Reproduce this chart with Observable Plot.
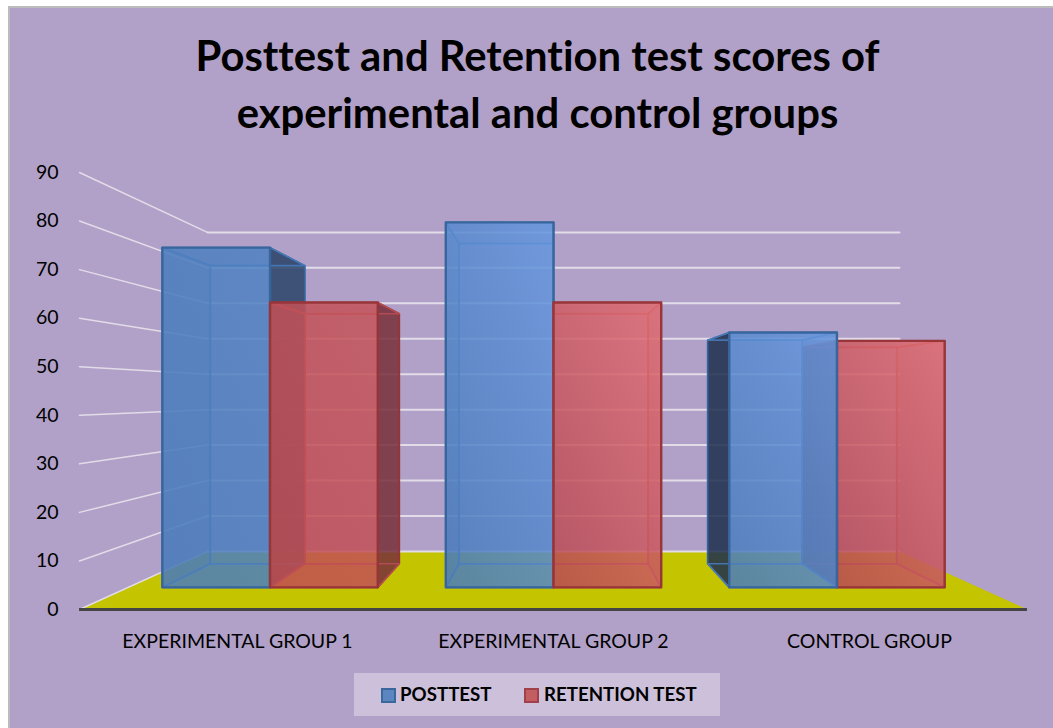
<!DOCTYPE html>
<html>
<head>
<meta charset="utf-8">
<script src="https://cdn.jsdelivr.net/npm/d3@7"></script>
<script src="https://cdn.jsdelivr.net/npm/@observablehq/plot@0.6"></script>
<style>
  html, body { margin: 0; padding: 0; width: 1053px; height: 728px; overflow: hidden; font-family: Lato, "Open Sans", sans-serif; color: #000; font-variant-ligatures: none; }
  html { background: #fff; }
  #frame { position: absolute; left: 8px; top: 6px; width: 1049px; height: 726px; background: #b1a0c7; border: 2px solid #bcbcbc; box-sizing: border-box; }
  #title { position: relative; height: 160px; box-sizing: border-box; padding: 27px 0 0 22px; text-align: center; font-weight: 700; font-size: 41.8px; line-height: 57px; }
  #chart { position: relative; }
  #chart svg { display: block; background: transparent !important; overflow: visible; font-variant-ligatures: none; }
  #legend { position: absolute; left: 354px; top: 673px; width: 366px; height: 43px; background: #ccc0da; font-weight: 700; font-size: 18.7px; }
  #legend span { position: absolute; top: 9px; line-height: 24px; white-space: nowrap; }
  #legend i { position: absolute; top: 15px; width: 11px; height: 11px; border: 2px solid; }
</style>
</head>
<body>
<div id="frame"></div>
<div id="title">Posttest and Retention test scores of<br>experimental and control groups</div>
<div id="chart"></div>
<div id="legend">
  <i style="left:27px;background:#5c86c0;border-color:#3a679c"></i><span style="left:46px">POSTTEST</span>
  <i style="left:170px;background:#c25e62;border-color:#a04048"></i><span style="left:190px">RETENTION TEST</span>
</div>
<script>
const groups = ["EXPERIMENTAL GROUP 1", "EXPERIMENTAL GROUP 2", "CONTROL GROUP"];
const posttest = [78, 83.8, 58.5];
const retention = [65.4, 65.4, 56.6];
const yTicks = [0, 10, 20, 30, 40, 50, 60, 70, 80, 90];

// simple perspective: s is the scale of a depth plane, relative to the front plane
const vanishU = 1.5, vanishV = 44.3;
const sFront = 1, sBarFront = 0.897, sBarBack = 0.787, sWall = 0.73;
const barW = 0.38;
const P = (u, v, s) => ({x: vanishU + (u - vanishU) * s, y: vanishV + (v - vanishV) * s});

const poly = (pts, o) => Plot.line([...pts, pts[0]], {x: "x", y: "y", ...o});

function bar(u0, u1, v, c, fillFront) {
  const F = s => [P(u0, 0, s), P(u1, 0, s), P(u1, v, s), P(u0, v, s)];
  const f = F(sBarFront), b = F(sBarBack);
  const edge = {stroke: c.inner, strokeWidth: 1.6, strokeOpacity: 0.9};
  const side = (i, j) => {
    const outside = (i === 0 && u0 > vanishU) || (i === 1 && u1 < vanishU);
    return poly([f[i], b[i], b[j], f[j]], outside
      ? {fill: c.dark, fillOpacity: 0.86, stroke: c.edge, strokeWidth: 1.6}
      : {fill: c.dark, fillOpacity: 0.16, ...edge});
  };
  return [
    poly(b, {fill: "none", ...edge}),
    side(0, 3),
    side(1, 2),
    poly([f[0], f[1], b[1], b[0]], {fill: "none", ...edge}),
    poly([f[3], f[2], b[2], b[3]], {fill: c.dark, fillOpacity: 0.05, ...edge}),
    poly(f, {fill: fillFront, fillOpacity: 0.85, stroke: c.edge, strokeWidth: 2.4})
  ];
}

const blue = {edge: "#37659c", inner: "#4a7ab8", dark: "#2b4369"};
const blueDeep = {edge: "#37659c", inner: "#4a7ab8", dark: "#1d2f4e"};
const red = {edge: "#973539", inner: "#b84f55", dark: "#78303a"};

const defs = () => {
  const d = d3.create("svg:defs");
  const grad = (id, a, b) => {
    const g = d.append("linearGradient").attr("id", id)
      .attr("x1", 0.9).attr("y1", 0).attr("x2", 0.1).attr("y2", 1);
    g.append("stop").attr("offset", 0).attr("stop-color", a);
    g.append("stop").attr("offset", 1).attr("stop-color", b);
  };
  grad("blue1", "#4f82c2", "#4a7cbc");
  grad("blue2", "#6496de", "#4a7cbc");
  grad("red1", "#c4545a", "#c04c52");
  grad("red2", "#e06c72", "#b84a54");
  return d.node();
};

const floor = [P(0, 0, sFront), P(3, 0, sFront), P(3, 0, sWall), P(0, 0, sWall)];

const marks = [
  defs,
  poly(floor, {fill: "#c4c400", stroke: "none"}),
  // back-wall gridlines
  ...yTicks.map(t => Plot.line([P(0, t, sWall), P(3, t, sWall)], {x: "x", y: "y", stroke: "#e2dce8", strokeWidth: 2})),
  // side-wall gridlines
  ...yTicks.map(t => Plot.line([P(0, t, sFront), P(0, t, sWall)], {x: "x", y: "y", stroke: "#e2dce8", strokeWidth: 1.5})),
  // bars: left and centre groups draw posttest first, the right group retention first
  ...bar(0.5 - barW, 0.5, posttest[0], blue, "url(#blue1)"),
  ...bar(0.5, 0.5 + barW, retention[0], red, "url(#red1)"),
  ...bar(1.5 - barW, 1.5, posttest[1], blue, "url(#blue2)"),
  ...bar(1.5, 1.5 + barW, retention[1], red, "url(#red2)"),
  ...bar(2.5, 2.5 + barW, retention[2], red, "url(#red2)"),
  ...bar(2.5 - barW, 2.5, posttest[2], blueDeep, "url(#blue2)"),
  // front edge of the floor
  Plot.ruleY([0], {x1: 0, x2: 3, stroke: "#444", strokeWidth: 3}),
  Plot.axisY({ticks: yTicks, tickSize: 0, tickPadding: 21, label: null, fontSize: 19.5, tickFormat: d => String(d)}),
  Plot.axisX({ticks: [0.5, 1.5, 2.5], tickSize: 0, tickPadding: 25, label: null, fontSize: 19.5, tickFormat: d => groups[Math.floor(d)]})
];

const plot = Plot.plot({
  width: 1053,
  height: 500,
  marginLeft: 79,
  marginRight: 26,
  marginTop: 12,
  marginBottom: 51,
  style: {fontFamily: "Lato, 'Open Sans', sans-serif", background: "transparent", color: "#000"},
  x: {domain: [0, 3], axis: null},
  y: {domain: [0, 90], axis: null},
  marks
});
document.getElementById("chart").appendChild(plot);
</script>
</body>
</html>
